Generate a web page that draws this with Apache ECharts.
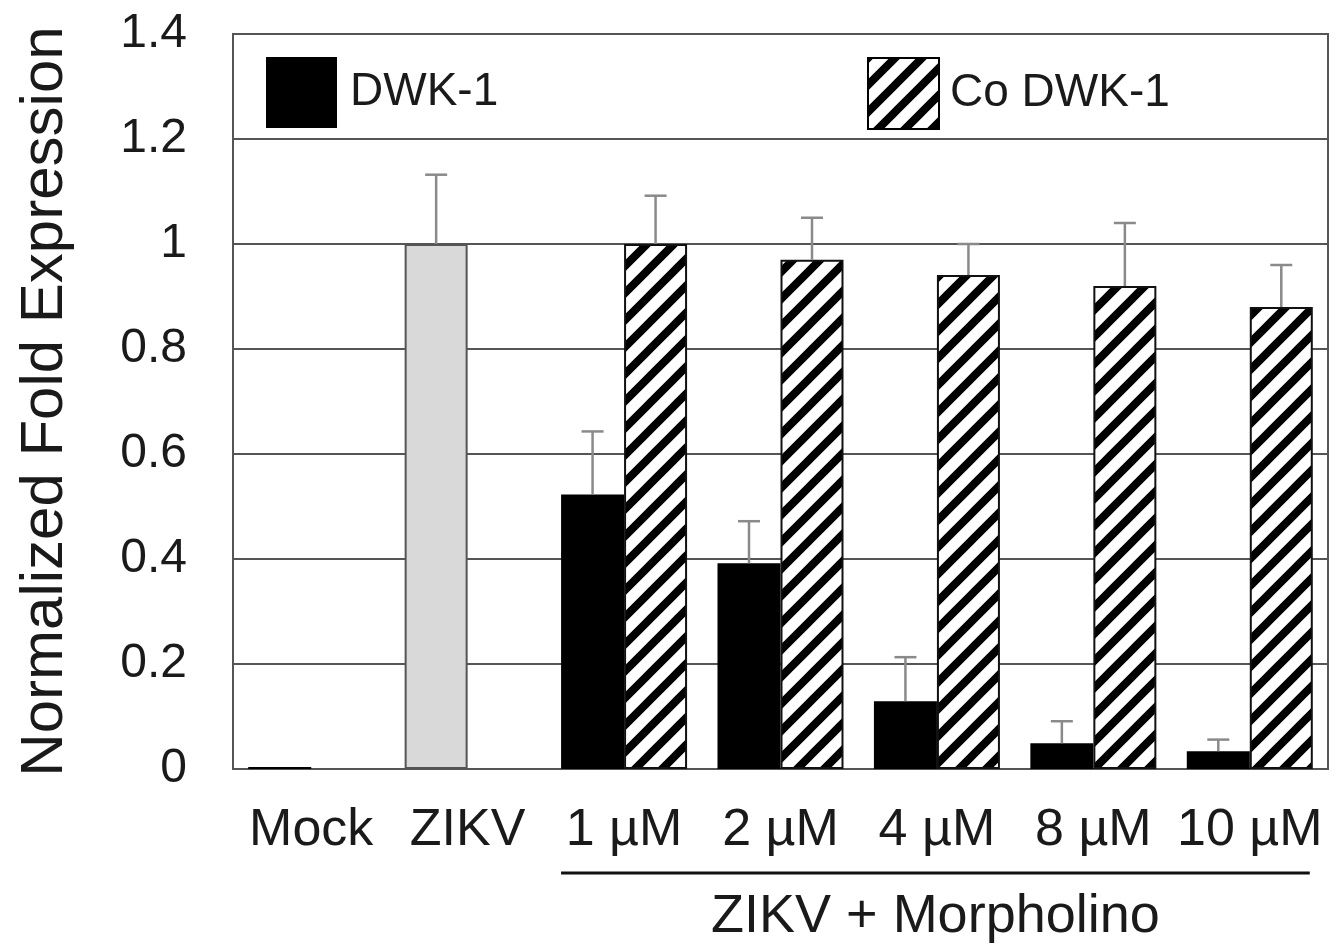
<!DOCTYPE html>
<html>
<head>
<meta charset="utf-8">
<script src="https://cdn.jsdelivr.net/npm/echarts@6/dist/echarts.min.js"></script>
<style>
html,body{margin:0;padding:0;background:#fff;}
#chart{width:1342px;height:952px;}
</style>
</head>
<body>
<div id="chart"></div>
<script>
// ---- data ----
const categories = ['Mock', 'ZIKV', '1 µM', '2 µM', '4 µM', '8 µM', '10 µM'];
const dwkValues   = [0.004, 1.0, 0.523, 0.392, 0.129, 0.049, 0.034];
const dwkUpper    = [null, 1.132, 0.643, 0.472, 0.213, 0.091, 0.056];
const coDwkValues = [null, null, 1.0, 0.970, 0.941, 0.920, 0.880];
const coDwkUpper  = [null, null, 1.092, 1.050, 1.0, 1.04, 0.960];
const yTicks = [0, 0.2, 0.4, 0.6, 0.8, 1, 1.2, 1.4];
const seriesNames = ['DWK-1', 'Co DWK-1'];
const groupLabel = 'ZIKV + Morpholino';
const yTitle = 'Normalized Fold Expression';

// ---- hatch pattern ----
function makeHatch() {
  const s = 27;
  const c = document.createElement('canvas');
  c.width = s; c.height = s;
  const g = c.getContext('2d');
  g.fillStyle = '#fff';
  g.fillRect(0, 0, s, s);
  g.strokeStyle = '#000';
  g.lineWidth = 8;
  g.beginPath();
  for (let k = -1; k <= 3; k++) {
    g.moveTo(-s, k * s + s);
    g.lineTo(2 * s, k * s - 2 * s);
  }
  g.stroke();
  return c;
}
const hatch = { image: makeHatch(), repeat: 'repeat' };

const BAR_W = 63;
const FONT = 'Liberation Sans, Arial, sans-serif';
const TXT = '#1a1a1a';

function errRenderer(offset) {
  return function (params, api) {
    const idx = api.value(0);
    const v = api.value(1), up = api.value(2);
    const p0 = api.coord([idx, v]);
    const p1 = api.coord([idx, up]);
    const x = p0[0] + offset;
    const cap = 11;
    const st = { stroke: '#8a8a8a', lineWidth: 2.5 };
    return {
      type: 'group',
      children: [
        { type: 'line', shape: { x1: x, y1: p0[1], x2: x, y2: p1[1] }, style: st },
        { type: 'line', shape: { x1: x - cap, y1: p1[1], x2: x + cap, y2: p1[1] }, style: st }
      ]
    };
  };
}

function errData(vals, ups) {
  const out = [];
  vals.forEach((v, i) => { if (v != null && ups[i] != null) out.push([i, v, ups[i]]); });
  return out;
}

const chart = echarts.init(document.getElementById('chart'), null, { renderer: 'canvas' });

const dwkData = dwkValues.map((v, i) => i === 1
  ? { value: v, itemStyle: { color: '#d9d9d9', borderColor: '#555', borderWidth: 2 } }
  : v);
const coData = coDwkValues.map(v => v == null ? '-' : v);

const option = {
  backgroundColor: '#fff',
  animation: false,
  grid: {
    left: 233, right: 14, top: 34, bottom: 183,
    show: true, borderColor: '#555', borderWidth: 2, backgroundColor: 'transparent'
  },
  legend: [
    {
      left: 261, top: 52, itemWidth: 71, itemHeight: 71, icon: 'rect',
      data: [{ name: seriesNames[0], itemStyle: { color: '#000', borderWidth: 0 } }],
      textStyle: { fontFamily: FONT, fontSize: 46, color: TXT, padding: [0, 0, 0, 8] },
      selectedMode: false
    },
    {
      left: 862, top: 52, itemWidth: 71, itemHeight: 71, icon: 'rect',
      data: [{ name: seriesNames[1], itemStyle: { color: hatch, borderColor: '#000', borderWidth: 2 } }],
      textStyle: { fontFamily: FONT, fontSize: 46, color: TXT, padding: [0, 0, 0, 6] },
      selectedMode: false
    }
  ],
  xAxis: {
    type: 'category',
    data: categories,
    axisLine: { show: true, lineStyle: { color: '#555', width: 2 } },
    axisTick: { show: false },
    axisLabel: { fontFamily: FONT, fontSize: 52, color: TXT, margin: 36, interval: 0 },
    splitLine: { show: false }
  },
  yAxis: {
    type: 'value',
    min: 0, max: 1.4, interval: 0.2,
    name: yTitle,
    nameLocation: 'middle',
    nameGap: 158,
    nameRotate: 90,
    nameTextStyle: { fontFamily: FONT, fontSize: 60, color: TXT },
    axisLine: { show: true, lineStyle: { color: '#555', width: 2 } },
    axisTick: { show: false },
    axisLabel: {
      fontFamily: FONT, fontSize: 48, color: TXT, margin: 46,
      formatter: function (v) {
        const t = yTicks.find(x => Math.abs(x - v) < 1e-9);
        return t === undefined ? '' : String(t);
      }
    },
    splitLine: { show: true, lineStyle: { color: '#555', width: 2 } }
  },
  series: [
    {
      name: seriesNames[0], type: 'bar', data: dwkData,
      barWidth: BAR_W, barGap: '0%',
      itemStyle: { color: '#000' }, z: 2
    },
    {
      name: seriesNames[1], type: 'bar', data: coData,
      barWidth: BAR_W, barGap: '0%',
      itemStyle: { color: hatch, borderColor: '#111', borderWidth: 2 }, z: 2
    },
    {
      name: 'errDWK', type: 'custom', renderItem: errRenderer(-BAR_W / 2),
      data: errData(dwkValues, dwkUpper), z: 3, silent: true,
      encode: { x: 0, y: [1, 2] }
    },
    {
      name: 'errCo', type: 'custom', renderItem: errRenderer(BAR_W / 2),
      data: errData(coDwkValues, coDwkUpper), z: 3, silent: true,
      encode: { x: 0, y: [1, 2] }
    }
  ]
};
chart.setOption(option);

// group bracket under x labels, positioned from the axis scale
function drawGroup() {
  const first = chart.convertToPixel({ xAxisIndex: 0 }, categories[2]);
  const last = chart.convertToPixel({ xAxisIndex: 0 }, categories[categories.length - 1]);
  const yBase = chart.convertToPixel({ yAxisIndex: 0 }, 0);
  const x1 = first - BAR_W, x2 = last + BAR_W - 3;
  const ly = yBase + 104;
  chart.setOption({
    graphic: [
      { type: 'line', shape: { x1: x1, y1: ly, x2: x2, y2: ly }, style: { stroke: '#111', lineWidth: 3 } },
      {
        type: 'text', x: (x1 + x2) / 2, y: ly + 44,
        style: { text: groupLabel, fontFamily: FONT, fontSize: 54, fill: TXT, align: 'center', verticalAlign: 'middle' }
      }
    ]
  });
}
drawGroup();
</script>
</body>
</html>
